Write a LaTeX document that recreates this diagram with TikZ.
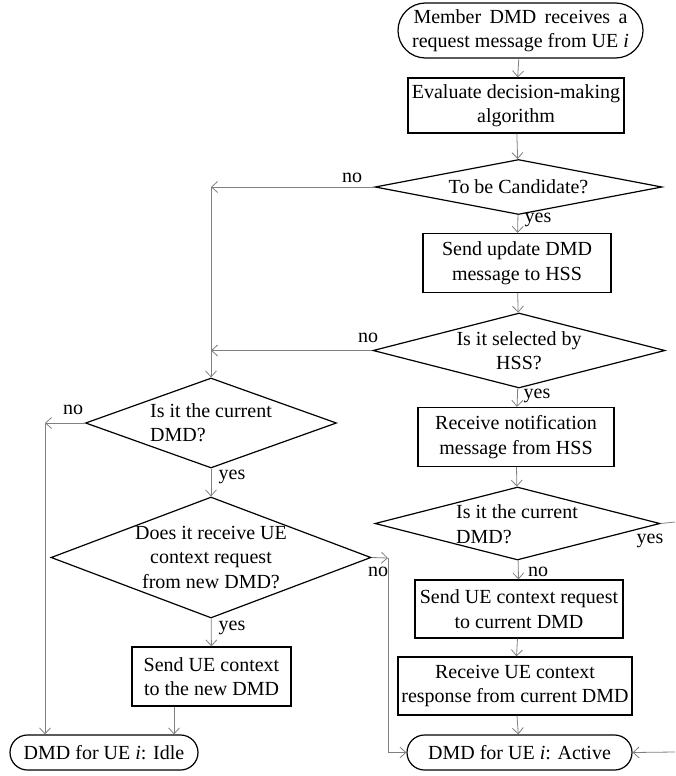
\documentclass[tikz,border=0pt]{standalone}
\usepackage{fontspec}
\setmainfont{Liberation Serif}
\usetikzlibrary{shapes.geometric,shapes.misc,arrows.meta}
\definecolor{linkgray}{HTML}{808080}
\begin{document}
\begin{tikzpicture}[x=1pt,y=-1pt,
  every node/.style={font=\fontsize{20}{24.5}\selectfont, inner sep=0pt},
  terminal/.style={draw, line width=1.2pt, rounded rectangle, align=center},
  process/.style={draw, line width=1.2pt, rectangle, align=center},
  decision/.style={draw, line width=1.2pt, diamond},
  dtext/.style={align=center},
  flow/.style={draw=linkgray, line width=0.8pt, -{Straight Barb[length=6pt,width=11pt]}},
  wire/.style={draw=linkgray, line width=0.8pt}
]
\useasboundingbox (0,0) rectangle (675,776);

% ---- right column ----
\node[terminal, minimum width=245, minimum height=55] (start) at (520.5,30.5)
  {\makebox[214pt][s]{Member DMD receives a}\\request message from UE \textit{i}};
\node[process, minimum width=216, minimum height=55] (eval) at (516,105.5)
  {Evaluate decision-making\\algorithm};
\node[decision, minimum width=287, minimum height=55] (cand) at (518.5,187) {};
\node[dtext] (candT) at (cand) {To be Candidate?};
\node[process, minimum width=188, minimum height=59] (upd) at (517,263)
  {Send update DMD\\message to HSS};
\node[decision, minimum width=292, minimum height=75] (sel) at (519,350.5) {};
\node[dtext] (selT) at (sel) {Is it selected by\\HSS?};
\node[process, minimum width=196, minimum height=59] (notif) at (516,437)
  {Receive notification\\message from HSS};
\node[decision, minimum width=285, minimum height=73] (curR) at (517.5,523.5) {};
\node[align=left] (curRT) at (517,524) {Is it the current\\DMD?};
\node[process, minimum width=208, minimum height=58] (req) at (519,609)
  {Send UE context request\\to current DMD};
\node[process, minimum width=234, minimum height=58] (resp) at (515,686)
  {Receive UE context\\response from current DMD};
\node[terminal, minimum width=225, minimum height=35] (active) at (519.5,752.5)
  {DMD for UE \textit{i}: Active};

% ---- left column ----
\node[decision, minimum width=251, minimum height=90] (curL) at (211,423) {};
\node[align=left] (curLT) at (211,422.5) {Is it the current\\DMD?};
\node[decision, minimum width=320, minimum height=121] (recv) at (211,557.5) {};
\node[dtext] (recvT) at (recv) {Does it receive UE\\context request\\from new DMD?};
\node[process, minimum width=159, minimum height=59] (send) at (211.5,676.5)
  {Send UE context\\to the new DMD};
\node[terminal, minimum width=188, minimum height=35] (idle) at (104,752.5)
  {DMD for UE \textit{i}: Idle};

% ---- junction points ----
\coordinate (jL) at (45,423);
\coordinate (jR) at (388,558);
\coordinate (tIdle) at (174,0);
\coordinate (edgeA) at (675,522);
\coordinate (edgeB) at (675,752);

% ---- main flow ----
\draw[flow] (start) -- (eval);
\draw[flow] (eval) -- (cand);
\draw[flow] (cand) -- (upd);
\draw[flow] (upd) -- (sel);
\draw[flow] (sel) -- (notif);
\draw[flow] (notif) -- (curR);
\draw[flow] (curR) -- (req);
\draw[flow] (req) -- (resp);
\draw[flow] (resp) -- (active);

% ---- rejection branches ----
\draw[flow] (cand.west) -- (curL.north |- cand.west);
\draw[flow] (curL.north |- cand.west) -- (curL.north);
\draw[flow] (sel.west) -- (curL.north |- sel.west);

\draw[flow] (curL.west) -- (jL);
\draw[flow] (jL) -- (jL |- idle.north);
\draw[flow] (curL) -- (recv);
\draw[flow] (recv) -- (send);
\draw[flow] (send.south -| tIdle) -- (idle.north -| tIdle);

\draw[flow] (recv.east) -- (jR);
\draw[flow] (jR) -- (jR |- active.west) -- (active.west);

\draw[wire] (curR.east) -- (edgeA);
\draw[flow] (edgeB) -- (active.east);

% ---- branch labels ----
\node (l1) at (352,178) {no};
\node (l2) at (538,220) {yes};
\node (l3) at (368,338) {no};
\node (l4) at (537,396) {yes};
\node (l5) at (73,410) {no};
\node (l6) at (232,477) {yes};
\node (l7) at (650,541) {yes};
\node (l8) at (538,572) {no};
\node (l9) at (378,572) {no};
\node (l10) at (232,628) {yes};
\end{tikzpicture}
\end{document}
